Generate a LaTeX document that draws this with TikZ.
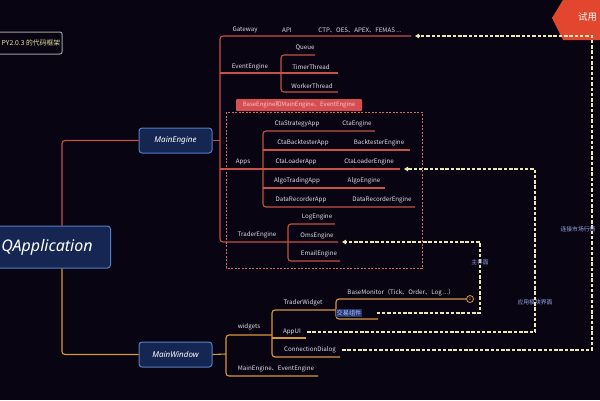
\documentclass[tikz,border=0pt]{standalone}
\usepackage{fontspec}
\setmainfont{Noto Sans CJK SC}
\newfontfamily\latinit{Noto Sans}
\usetikzlibrary{arrows.meta}
\definecolor{bgc}{RGB}{9,4,18}
\definecolor{redl}{RGB}{196,82,70}
\definecolor{orl}{RGB}{214,152,62}
\definecolor{txtc}{RGB}{222,222,232}
\definecolor{nodefill}{RGB}{22,38,82}
\definecolor{nodeline}{RGB}{86,126,196}
\definecolor{dashc}{RGB}{236,232,184}
\definecolor{lblc}{RGB}{150,165,230}
\definecolor{tagred}{RGB}{214,78,82}
\definecolor{tagtxt}{RGB}{245,200,200}
\definecolor{hexred}{RGB}{226,70,46}
\definecolor{titletxt}{RGB}{232,226,160}
\definecolor{hlfill}{RGB}{34,54,116}
\definecolor{hltxt}{RGB}{180,198,245}
\begin{document}
\begin{tikzpicture}[x=1pt,y=-1pt,
  txt/.style={font=\fontsize{6.2}{7}\selectfont,text=txtc,inner sep=0pt},
  rl/.style={draw=redl,line width=1.1pt,rounded corners=3pt},
  ol/.style={draw=orl,line width=1.1pt,rounded corners=3pt},
  dashline/.style={draw=dashc,line width=1.5pt,dash pattern=on 3.5pt off 1.8pt,-{Triangle[length=4pt,width=4.5pt]}},
  bignode/.style={draw=nodeline,fill=nodefill,line width=1pt,rounded corners=3pt,text=white},
  lbl/.style={font=\fontsize{5.8}{6.5}\selectfont,text=lblc,inner sep=0.5pt},
]
\useasboundingbox (0,0) rectangle (600,400);
\clip (0,0) rectangle (600,400);
\fill[bgc] (0,0) rectangle (600,400);

% title box top-left
\draw[gray!75,line width=1pt,rounded corners=2pt] (-5,32) rectangle (62,54);
\node[font=\fontsize{6.8}{7}\selectfont,text=titletxt,inner sep=0pt,anchor=west] (title) at (1.5,43) {PY2.0.3 的代码框架};

% red tab top-right
\fill[hexred] (563,0) -- (552,18) -- (563,40) -- (600,40) -- (600,0) -- cycle;
\node[font=\fontsize{9.5}{10}\selectfont,text=white,inner sep=0pt,anchor=west] (trial) at (578,17) {试用};

% main nodes
\node[bignode,anchor=west,minimum height=42pt,inner xsep=11pt,text width=98pt,align=left,
      font=\latinit\itshape\fontsize{16}{18}\selectfont] (qapp) at (-10,247) {QApplication};
\node[bignode,minimum width=73pt,minimum height=25pt,inner sep=0pt,
      font=\latinit\itshape\bfseries\fontsize{8}{9}\selectfont] (me) at (175.5,140.5) {MainEngine};
\node[bignode,minimum width=73pt,minimum height=25pt,inner sep=0pt,
      font=\latinit\itshape\bfseries\fontsize{8}{9}\selectfont] (mw) at (175.5,354.5) {MainWindow};

% coordinates
\coordinate (qx) at (62,0);
\coordinate (mv) at (220,0);
\coordinate (gwend) at (411,36);
\coordinate (mvb) at (220,242);
\coordinate (omsend) at (338,242);
\coordinate (qend) at (315,55);
\coordinate (evb) at (281,92);
\coordinate (wend) at (338,92);
\coordinate (eva) at (220,73);
\coordinate (tend) at (338,73);
\coordinate (ctaend) at (375,131);
\coordinate (appb) at (263,207);
\coordinate (drend) at (415,207);
\coordinate (cbs) at (263,150);
\coordinate (cbend) at (410,150);
\coordinate (apa) at (220,169);
\coordinate (clend) at (400,169);
\coordinate (ats) at (263,188);
\coordinate (atend) at (385,188);
\coordinate (logend) at (335,224);
\coordinate (teb) at (288,261);
\coordinate (emailend) at (340,261);
\coordinate (mwv) at (226,354);
\coordinate (wj) at (272,335);
\coordinate (mwb) at (226,376);
\coordinate (meend) at (318,376);
\coordinate (twj) at (336,310);
\coordinate (wb) at (272,357);
\coordinate (cdend) at (340,357);
\coordinate (aus) at (272,338);
\coordinate (auend) at (306,338);
\coordinate (bmend) at (466,299);
\coordinate (twb) at (336,319);
\coordinate (jyend) at (378,319);
\coordinate (rc1) at (592,36);
\coordinate (rc2) at (535,169);
\coordinate (rc3) at (480,242);

% dashed frame and tag
\draw[draw=redl!85,line width=0.8pt,dash pattern=on 2pt off 1.5pt] (226,112) rectangle (422,268);
\node[fill=tagred,text=tagtxt,font=\fontsize{6}{6.5}\selectfont,minimum width=126pt,minimum height=12pt,inner sep=0pt,rounded corners=1pt] (tag) at (299,105) {BaseEngine和MainEngine、EventEngine};

% red connectors
\draw[rl] (qapp.north -| qx) |- (me.west);
\draw[rl] (me.east) -- (me.east -| mv);
\draw[rl] (gwend) -| (mvb) -- (omsend);
\draw[rl] (eva) -- (tend);
\draw[rl] (qend) -| (evb) -- (wend);
\draw[rl] (ctaend) -| (appb) -- (drend);
\draw[rl] (cbs) -- (cbend);
\draw[rl] (apa) -- (clend);
\draw[rl] (ats) -- (atend);
\draw[rl] (logend) -| (teb) -- (emailend);

% orange connectors
\draw[ol] (qapp.south -| qx) |- (mw.west);
\draw[ol] (mw.east) -- (mwv);
\draw[ol] (wj) -| (mwb) -- (meend);
\draw[ol] (twj) -| (wb) -- (cdend);
\draw[ol] (aus) -- (auend);
\draw[ol] (bmend) -| (twb) -- (jyend);
\node[draw=orl,line width=0.8pt,circle,minimum size=7pt,inner sep=0pt,fill=bgc,
      font=\fontsize{4}{4}\selectfont,text=orl] (mark) at (470,299) {2};

% texts
\node[txt] (gw) at (245,30) {Gateway};
\node[txt] (api) at (287,30) {API};
\node[txt] (ctp) at (360,30) {CTP、OES、APEX、FEMAS ...};
\node[txt] (ev) at (250,67) {EventEngine};
\node[txt] (queue) at (305,48) {Queue};
\node[txt] (timer) at (311,67) {TimerThread};
\node[txt] (worker) at (312,86) {WorkerThread};
\node[txt] (apps) at (243,162) {Apps};
\node[txt] (csa) at (297,124) {CtaStrategyApp};
\node[txt] (ce) at (357,124) {CtaEngine};
\node[txt] (cba) at (303,143) {CtaBacktesterApp};
\node[txt] (be) at (379,143) {BacktesterEngine};
\node[txt] (cla) at (296,162) {CtaLoaderApp};
\node[txt] (cle) at (369,162) {CtaLoaderEngine};
\node[txt] (ata) at (297,181) {AlgoTradingApp};
\node[txt] (ae) at (364,181) {AlgoEngine};
\node[txt] (dra) at (301,200) {DataRecorderApp};
\node[txt] (dre) at (382,200) {DataRecorderEngine};
\node[txt] (te) at (257,235) {TraderEngine};
\node[txt] (log) at (317,217) {LogEngine};
\node[txt] (oms) at (317,236) {OmsEngine};
\node[txt] (email) at (319,254) {EmailEngine};
\node[txt] (widgets) at (249,327) {widgets};
\node[txt] (mee) at (276,369) {MainEngine、EventEngine};
\node[txt] (tw) at (303,303) {TraderWidget};
\node[txt] (appui) at (292,332) {AppUI};
\node[txt] (cd) at (310,350) {ConnectionDialog};
\node[txt] (bm) at (401,293) {BaseMonitor（Tick、Order、Log ...）};
\node[txt,fill=hlfill,text=hltxt,inner sep=1pt] (jy) at (349,313) {交易组件};

% dashed connectors
\draw[dashline] ([xshift=6pt]cd.east) -| (rc1) -- ([xshift=4pt]gwend);
\draw[dashline] ([xshift=6pt]appui.east) -| (rc2) -- ([xshift=4pt]clend);
\draw[dashline] ([xshift=14pt]jy.east) -| (rc3) -- ([xshift=4pt]omsend);

% dashed labels
\node[lbl] (l1) at (480,262) {主界面};
\node[lbl] (l2) at (535,302) {应用模块界面};
\node[lbl] (l3) at (578,229) {连接市场行情};
\end{tikzpicture}
\end{document}
